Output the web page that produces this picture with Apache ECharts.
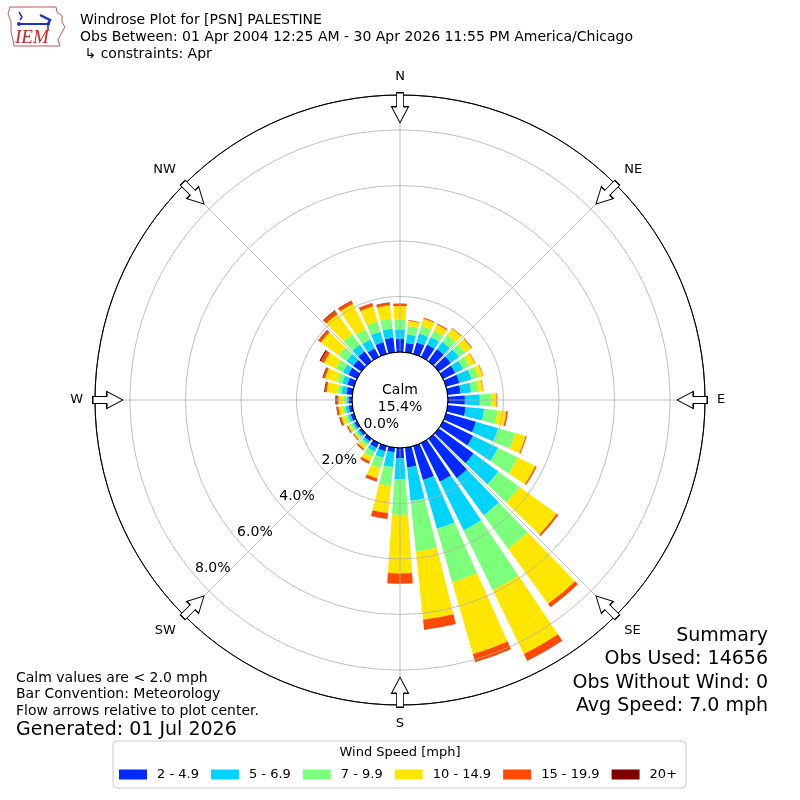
<!DOCTYPE html>
<html><head><meta charset="utf-8">
<script src="https://cdn.jsdelivr.net/npm/echarts@6/dist/echarts.min.js"></script>
<style>html,body{margin:0;padding:0;background:#fff}#c{width:800px;height:800px}</style>
</head><body><div id="c"></div>
<script>
// ---------- data ----------
const directions = [0,10,20,30,40,50,60,70,80,90,100,110,120,130,140,150,160,170,180,190,200,210,220,230,240,250,260,270,280,290,300,310,320,330,340,350];
const speedBins = ['2 - 4.9','5 - 6.9','7 - 9.9','10 - 14.9','15 - 19.9','20+'];
// percent of observations, per direction (0..350 deg) per speed bin
const bin2to5   = [0.47,0.34,0.43,0.50,0.54,0.54,0.49,0.50,0.47,0.61,0.65,1.12,1.20,1.55,1.75,1.55,1.27,0.71,0.37,0.16,0.19,0.19,0.12,0.10,0.10,0.12,0.13,0.13,0.22,0.25,0.35,0.36,0.44,0.35,0.44,0.53];
const bin5to7   = [0.35,0.31,0.33,0.30,0.32,0.36,0.31,0.45,0.38,0.54,0.67,0.83,1.00,1.10,1.65,1.95,1.83,1.22,0.76,0.54,0.25,0.16,0.10,0.08,0.08,0.10,0.11,0.06,0.18,0.19,0.21,0.30,0.30,0.35,0.39,0.33];
const bin7to10  = [0.34,0.30,0.29,0.25,0.31,0.27,0.26,0.25,0.27,0.42,0.48,0.65,0.80,0.95,1.50,2.40,2.00,1.83,1.28,0.68,0.38,0.21,0.11,0.08,0.09,0.11,0.12,0.12,0.13,0.19,0.28,0.35,0.46,0.41,0.38,0.36];
const bin10to15 = [0.50,0.19,0.27,0.25,0.28,0.28,0.22,0.18,0.16,0.18,0.32,0.38,0.70,1.65,2.45,2.55,2.70,2.47,2.11,0.98,0.39,0.18,0.12,0.07,0.09,0.14,0.14,0.18,0.40,0.45,0.48,0.79,0.90,1.02,0.57,0.49];
const bin15to20 = [0.08,0.03,0.03,0.04,0.03,0.03,0.02,0.02,0.02,0.03,0.06,0.04,0.05,0.07,0.15,0.27,0.30,0.35,0.36,0.21,0.11,0.08,0.05,0.03,0.04,0.06,0.06,0.07,0.06,0.07,0.13,0.10,0.14,0.12,0.12,0.09];
const bin20plus = [0.01,0,0,0,0,0,0,0,0,0,0,0,0,0,0,0.01,0,0.01,0.01,0.01,0.01,0.01,0.01,0.01,0.01,0.02,0.02,0.04,0.03,0.03,0.05,0.02,0.03,0.01,0.01,0.01];
const compassLabels = ['N','NE','E','SE','S','SW','W','NW'];
const compassAngles = [0,45,90,135,180,225,270,315];
const radiusTicks = [0,2,4,6,8];
const calmPct = 15.4;
const titleLines = ['Windrose Plot for [PSN] PALESTINE','Obs Between: 01 Apr 2004 12:25 AM - 30 Apr 2026 11:55 PM America/Chicago',' \u21b3 constraints: Apr'];
const noteLines = ['Calm values are < 2.0 mph','Bar Convention: Meteorology','Flow arrows relative to plot center.'];
const generatedText = 'Generated: 01 Jul 2026';
const summaryLines = ['Summary','Obs Used: 14656','Obs Without Wind: 0','Avg Speed: 7.0 mph'];

// ---------- styling ----------
const FONT = 'DejaVu Sans';
const R_IN = 48, R_OUT = 305, R_MAX = 9.26, ARROW_R = 8.8;
const colors = ['#002aff','#00d4ff','#7cff7a','#ffe600','#ff4800','#800000'];
const bins = [bin2to5, bin5to7, bin7to10, bin10to15, bin15to20, bin20plus];
const GRID = '#b0b0b0';
const ARROW_PATH = 'path://M5,0 L12,0 L12,14 L17,14 L8.5,30 L0,14 L5,14 Z';

const chart = echarts.init(document.getElementById('c'), null, {renderer:'canvas'});

const graphics = [];
titleLines.forEach((t,i)=>graphics.push({type:'text', z:100, style:{text:t, x:80, y:20+17*i, textVerticalAlign:'middle', font:'14px "DejaVu Sans"', fill:'#000'}}));
noteLines.forEach((t,i)=>graphics.push({type:'text', z:100, style:{text:t, x:16, y:678+16.5*i, textVerticalAlign:'middle', font:'14px "DejaVu Sans"', fill:'#000'}}));
graphics.push({type:'text', z:100, style:{text:generatedText, x:16, y:730, textVerticalAlign:'middle', font:'19px "DejaVu Sans"', fill:'#000'}});
summaryLines.forEach((t,i)=>graphics.push({type:'text', z:100, style:{text:t, x:768, y:636+23.4*i, textAlign:'right', textVerticalAlign:'middle', font:'19px "DejaVu Sans"', fill:'#000'}}));
graphics.push({type:'text', z:100, style:{text:'Calm\n' + calmPct.toFixed(1) + '%', x:400, y:399, textAlign:'center', textVerticalAlign:'middle', font:'14px "DejaVu Sans"', lineHeight:17, fill:'#000'}});
graphics.push({type:'text', z:100, style:{text:'Wind Speed [mph]', x:400, y:753, textAlign:'center', textVerticalAlign:'middle', font:'13px "DejaVu Sans"', fill:'#000'}});
// IEM logo
graphics.push({type:'polygon', z:100, shape:{points:[[10,7],[56,7],[57,12],[62,16],[62,22],[65,27],[61,34],[58,40],[60,46],[14,46],[13,40],[11,32],[11,22],[8,14]]}, style:{fill:'none', stroke:'#b03030', lineWidth:0.8}});
graphics.push({type:'polyline', z:100, shape:{points:[[20,24],[50,24]]}, style:{stroke:'#2030c0', lineWidth:2}});
graphics.push({type:'polyline', z:100, shape:{points:[[40,15],[50,20],[48,24]]}, style:{stroke:'#2030c0', lineWidth:2.5, fill:'none'}});
graphics.push({type:'polyline', z:100, shape:{points:[[19,12],[22,17],[20,20]]}, style:{stroke:'#2030c0', lineWidth:1.5, fill:'none'}});
graphics.push({type:'circle', z:100, shape:{cx:19, cy:24, r:2}, style:{fill:'#2030c0'}});
graphics.push({type:'polyline', z:100, shape:{points:[[48,24],[48,30]]}, style:{stroke:'#2030c0', lineWidth:1.5}});
graphics.push({type:'text', z:100, style:{text:'IEM', x:15, y:38, textVerticalAlign:'middle', font:'italic 19px "Liberation Serif"', fill:'#d02020'}});

const series = bins.map((arr,i)=>({
  name: speedBins[i], type:'bar', coordinateSystem:'polar', polarIndex:0, stack:'wind',
  data: arr, barCategoryGap:'20%', itemStyle:{color:colors[i]}, emphasis:{disabled:true}, silent:true, z:2
}));
series.push({
  type:'scatter', coordinateSystem:'polar', polarIndex:1, silent:true, z:6,
  data: compassAngles.map(a=>({value:[ARROW_R, a], symbolRotate:-a})),
  symbol: ARROW_PATH, symbolSize:[17,30], symbolKeepAspect:false,
  itemStyle:{color:'#fff', borderColor:'#000', borderWidth:1.1, opacity:1}
});

const option = {
  animation:false,
  backgroundColor:'#fff',
  textStyle:{fontFamily:FONT},
  polar:[
    {center:['50%','50%'], radius:[R_IN,R_OUT]},
    {center:['50%','50%'], radius:[R_IN,R_OUT]},
    {center:['50%','50%'], radius:[R_IN,R_OUT]}
  ],
  angleAxis:[
    {polarIndex:0, type:'category', data:directions.map(String), startAngle:95, clockwise:true, boundaryGap:true,
     axisLine:{show:false}, axisTick:{show:false}, axisLabel:{show:false}, splitLine:{show:false}, splitArea:{show:false}},
    {polarIndex:1, type:'value', min:0, max:360, interval:45, startAngle:90, clockwise:true, z:5,
     axisLine:{show:true, lineStyle:{color:'#000', width:1}}, axisTick:{show:false},
     axisLabel:{show:true, margin:12, fontSize:13, color:'#000', fontFamily:FONT,
       formatter:v=>{const i=compassAngles.indexOf(v); return (i>=0 && v<360) ? compassLabels[i] : '';}},
     splitLine:{show:true, lineStyle:{color:GRID, width:0.8}}, splitArea:{show:false}},
    {polarIndex:2, type:'value', min:0, max:360, startAngle:220.6, clockwise:true, show:false}
  ],
  radiusAxis:[
    {polarIndex:0, type:'value', min:0, max:R_MAX, show:false},
    {polarIndex:1, type:'value', min:0, max:R_MAX, interval:2, z:5,
     axisLine:{show:false}, axisTick:{show:false}, axisLabel:{show:false},
     splitLine:{show:true, lineStyle:{color:['#000',GRID,GRID,GRID,GRID,'#000'], width:0.8}}, splitArea:{show:false}},
    {polarIndex:2, type:'value', min:0, max:R_MAX, interval:2, z:5,
     axisLine:{show:false}, axisTick:{show:false}, splitLine:{show:false}, splitArea:{show:false},
     axisLabel:{show:true, margin:0, align:'left', verticalAlign:'bottom', fontSize:14, color:'#000', fontFamily:FONT, showMaxLabel:false,
       formatter:v=>radiusTicks.includes(v) ? v.toFixed(1)+'%' : ''}}
  ],
  legend:{data:speedBins, left:113, top:741, orient:'horizontal', itemWidth:28, itemHeight:10, itemGap:12,
    padding:[27,9,7,6], backgroundColor:'#fff', borderColor:'#cccccc', borderWidth:1, borderRadius:4,
    icon:'rect', selectedMode:false, textStyle:{fontSize:13, color:'#000', fontFamily:FONT, padding:[0,0,0,5]}},
  graphic:graphics,
  series:series
};
chart.setOption(option);
</script>
</body></html>
